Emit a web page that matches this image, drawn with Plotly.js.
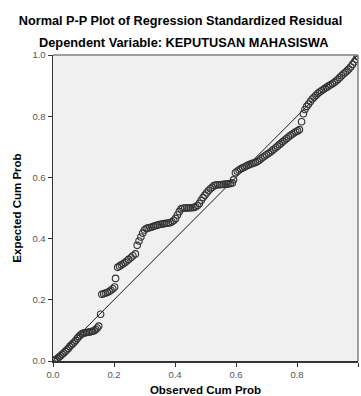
<!DOCTYPE html>
<html>
<head>
<meta charset="utf-8">
<script src="https://cdn.plot.ly/plotly-3.0.1.min.js"></script>
<style>
html,body{margin:0;padding:0;background:#fff;}
#chart{width:361px;height:396px;}
</style>
</head>
<body>
<div id="chart"></div>
<script>
// Observed cumulative probability (x) and expected cumulative probability (y)
var observed = [
0.005,0.010,0.015,0.020,0.025,0.030,0.035,0.040,0.045,0.050,0.055,0.060,0.065,0.070,0.075,0.080,0.085,0.090,0.095,0.100,0.105,0.110,0.115,0.120,0.125,0.130,0.135,0.140,0.145,0.150,0.156,
0.160,0.166,0.172,0.178,0.184,0.190,0.196,0.202,
0.205,
0.212,0.218,0.224,0.230,0.236,0.242,0.248,0.256,0.262,0.270,
0.276,0.282,0.288,0.294,0.300,0.306,0.312,0.318,0.324,0.330,0.336,0.342,0.348,0.354,0.360,0.366,0.372,0.378,0.384,0.390,0.396,0.402,0.408,0.414,0.420,0.426,0.432,0.438,0.444,0.450,0.456,0.462,0.468,0.474,
0.480,0.486,0.492,0.498,0.504,0.510,0.516,0.522,0.528,0.534,0.540,0.546,0.552,0.558,0.564,0.570,0.576,0.582,0.588,0.592,
0.598,0.604,0.610,0.616,0.622,0.628,0.634,0.640,0.646,0.652,0.658,0.664,0.670,0.676,0.682,0.688,0.694,0.700,0.706,0.712,0.718,0.724,0.730,0.736,0.742,0.748,0.754,0.760,0.766,0.772,0.778,0.784,0.790,0.796,0.802,0.808,
0.815,
0.821,0.826,0.832,0.838,0.844,0.850,0.856,0.862,0.868,0.874,0.880,0.886,0.892,0.898,0.904,0.910,0.916,0.922,0.928,0.934,0.940,0.946,0.952,0.958,0.964,0.970,0.976,0.982,0.988,0.994,0.998
];
var expected = [
0.002,0.005,0.009,0.013,0.017,0.022,0.026,0.031,0.036,0.041,0.047,0.052,0.057,0.062,0.068,0.074,0.080,0.085,0.089,0.091,0.092,0.093,0.094,0.095,0.096,0.097,0.099,0.103,0.108,0.114,0.153,
0.218,0.220,0.222,0.224,0.227,0.231,0.236,0.242,
0.270,
0.306,0.310,0.314,0.318,0.322,0.327,0.332,0.338,0.344,0.350,
0.378,0.392,0.405,0.418,0.428,0.433,0.435,0.436,0.438,0.440,0.442,0.444,0.446,0.447,0.448,0.449,0.450,0.451,0.452,0.455,0.459,0.466,0.477,0.488,0.497,0.499,0.500,0.500,0.500,0.501,0.501,0.502,0.504,0.508,
0.515,0.525,0.534,0.542,0.550,0.557,0.563,0.568,0.573,0.575,0.576,0.576,0.577,0.577,0.578,0.578,0.579,0.580,0.582,0.592,
0.615,0.620,0.624,0.628,0.631,0.634,0.637,0.640,0.643,0.645,0.647,0.649,0.652,0.656,0.661,0.666,0.670,0.674,0.678,0.682,0.687,0.692,0.697,0.702,0.707,0.712,0.717,0.722,0.727,0.732,0.737,0.741,0.745,0.749,0.752,0.756,
0.782,
0.808,0.822,0.832,0.840,0.848,0.856,0.862,0.868,0.874,0.879,0.883,0.887,0.891,0.895,0.899,0.903,0.906,0.910,0.915,0.920,0.926,0.932,0.938,0.943,0.948,0.954,0.961,0.969,0.977,0.986,0.997
];
var refLine = [0, 1];
var tickVals = [0, 0.2, 0.4, 0.6, 0.8, 1.0];
var tickText = ["0.0", "0.2", "0.4", "0.6", "0.8", "1.0"];
var titleLine1 = "Normal P-P Plot of Regression Standardized Residual";
var titleLine2 = "Dependent Variable: KEPUTUSAN MAHASISWA";
var xTitle = "Observed Cum Prob";
var yTitle = "Expected Cum Prob";

var font = "Liberation Sans, Arial, sans-serif";

var traces = [
  {
    x: refLine, y: refLine, type: "scatter", mode: "lines",
    line: {color: "#1a1a1a", width: 1}, hoverinfo: "skip", showlegend: false
  },
  {
    x: observed, y: expected, type: "scatter", mode: "markers",
    marker: {symbol: "circle-open", size: 6.5, color: "#333333", line: {width: 1.1, color: "#333333"}},
    showlegend: false
  }
];

var axisCommon = {
  range: [0, 1],
  tickvals: tickVals,
  ticktext: tickText,
  ticks: "outside",
  ticklen: 4,
  tickwidth: 1,
  tickcolor: "#333",
  showgrid: false,
  zeroline: false,
  showline: true,
  linecolor: "#333",
  linewidth: 1.5,
  tickfont: {family: font, size: 9.5, color: "#555"},
  fixedrange: true
};

var layout = {
  width: 361, height: 396,
  margin: {l: 53, r: 3, t: 55, b: 35},
  paper_bgcolor: "#ffffff",
  plot_bgcolor: "#f0f0f0",
  title: {
    text: "<b>" + titleLine1 + "</b>",
    font: {family: font, size: 12.7, color: "#000"},
    x: 0.5, xref: "container", xanchor: "center",
    y: 1 - 21/396, yref: "container", yanchor: "middle"
  },
  xaxis: Object.assign({}, axisCommon, {
    title: {text: "<b>" + xTitle + "</b>", font: {family: font, size: 11.5, color: "#000"}, standoff: 10}
  }),
  yaxis: Object.assign({}, axisCommon, {
    title: {text: "<b>" + yTitle + "</b>", font: {family: font, size: 11.5, color: "#000"}, standoff: 8}
  }),
  annotations: [
    {
      text: "<b>" + titleLine2 + "</b>",
      xref: "paper", yref: "paper",
      x: (183 - 53) / 305, y: (361 - 43) / 306,
      xanchor: "center", yanchor: "middle",
      showarrow: false,
      font: {family: font, size: 12.8, color: "#000"}
    }
  ],
  shapes: [
    {type: "line", xref: "paper", yref: "paper", x0: 0, x1: 1, y0: 1, y1: 1, line: {color: "#808080", width: 1.5}},
    {type: "line", xref: "paper", yref: "paper", x0: 1, x1: 1, y0: 0, y1: 1, line: {color: "#808080", width: 1.5}}
  ]
};

Plotly.newPlot("chart", traces, layout, {displayModeBar: false, staticPlot: true});
</script>
</body>
</html>
